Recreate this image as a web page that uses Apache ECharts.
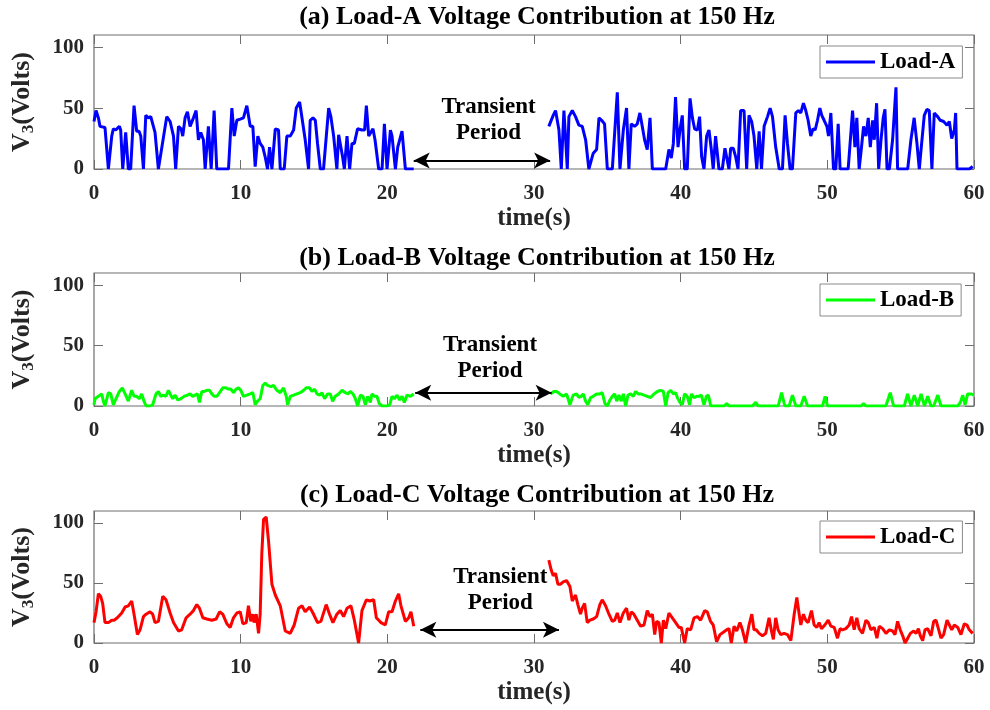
<!DOCTYPE html>
<html>
<head>
<meta charset="utf-8">
<title>Voltage Contribution at 150 Hz</title>
<script src="https://cdn.jsdelivr.net/npm/echarts@6/dist/echarts.min.js"></script>
<style>
  html, body { margin: 0; padding: 0; background: #fff; }
  #chart { width: 990px; height: 710px; }
</style>
</head>
<body>
<div id="chart"></div>
<script>
// [time (s), V3 (Volts)] samples, before and after the transient period
const loadA1 = [[0,39],[0.14,48],[0.30,42],[0.41,35],[0.75,34],[0.82,33],[0.98,0],[1.21,27],[1.32,33],[1.48,32],[1.59,31],[1.73,35],[1.82,32],[1.96,0],[2.16,30],[2.34,0],[2.50,0],[2.73,52],[2.91,31],[3.07,31],[3.19,27],[3.37,0],[3.53,44],[3.71,42],[3.87,43],[4.00,44],[4.16,30],[4.39,0],[4.50,0],[4.96,43],[5.19,39],[5.42,27],[5.57,0],[5.76,35],[5.94,33],[6.05,27],[6.21,42],[6.37,47],[6.55,35],[6.78,42],[6.96,48],[7.12,24],[7.28,30],[7.46,24],[7.58,0],[7.80,35],[7.99,0],[8.19,48],[8.37,0],[8.60,0],[9.17,0],[9.40,50],[9.56,27],[9.74,40],[9.97,41],[10.19,42],[10.42,52],[10.65,35],[10.83,35],[10.99,2],[11.17,27],[11.33,21],[11.51,18],[11.67,10],[11.83,0],[11.97,18],[12.13,0],[12.36,33],[12.58,32],[12.70,0],[12.97,0],[13.15,27],[13.38,27],[13.61,32],[13.79,50],[14.02,55],[14.18,42],[14.40,24],[14.63,0],[14.74,40],[14.93,42],[15.09,40],[15.24,21],[15.43,0],[15.65,0],[16.00,50],[16.15,43],[16.34,27],[16.56,0],[16.68,28],[16.79,27],[16.95,10],[17.07,0],[17.25,27],[17.43,0],[17.59,21],[17.75,21],[17.97,33],[18.27,32],[18.45,32],[18.57,52],[18.73,27],[19.02,33],[19.16,24],[19.41,0],[19.64,0],[19.80,37],[19.98,0],[20.21,32],[20.32,27],[20.55,0],[20.71,18],[21.00,31],[21.23,0],[21.80,0]];
const loadA2 = [[31.01,35],[31.31,44],[31.47,48],[31.70,32],[31.86,0],[32.04,48],[32.16,24],[32.27,0],[32.38,43],[32.61,48],[32.83,43],[33.06,36],[33.29,35],[33.52,24],[33.74,0],[33.86,0],[34.04,13],[34.27,16],[34.43,42],[34.61,40],[34.81,37],[35.00,0],[35.34,0],[35.68,63],[35.86,0],[36.09,32],[36.31,50],[36.47,0],[36.63,37],[36.86,35],[37.04,37],[37.22,46],[37.38,35],[37.54,24],[37.72,16],[37.91,42],[38.07,0],[38.98,0],[39.20,16],[39.36,9],[39.50,21],[39.65,59],[39.82,18],[39.95,32],[40.11,44],[40.27,0],[40.45,0],[40.64,58],[40.80,42],[40.95,33],[41.14,32],[41.29,43],[41.43,10],[41.59,0],[41.77,27],[41.93,32],[42.09,16],[42.22,0],[42.38,27],[42.61,0],[42.84,0],[43.02,17],[43.18,7],[43.29,0],[43.41,17],[43.59,17],[43.75,10],[43.91,0],[44.09,48],[44.32,48],[44.50,0],[44.66,44],[44.84,39],[45.00,27],[45.19,0],[45.35,31],[45.51,0],[45.69,35],[45.92,43],[46.10,50],[46.26,43],[46.48,18],[46.72,0],[46.94,0],[47.12,44],[47.28,21],[47.46,0],[47.62,0],[47.85,46],[48.03,48],[48.19,46],[48.37,54],[48.53,48],[48.69,40],[48.87,27],[49.03,33],[49.17,32],[49.33,40],[49.49,50],[49.62,44],[49.78,40],[49.97,35],[50.08,27],[50.24,46],[50.42,0],[50.58,0],[50.74,37],[50.87,0],[51.42,0],[51.72,48],[51.88,18],[52.01,42],[52.17,0],[52.33,18],[52.47,35],[52.63,27],[52.79,42],[52.93,18],[53.09,40],[53.20,24],[53.36,54],[53.50,0],[53.66,24],[53.81,42],[53.93,49],[54.07,0],[54.23,0],[54.45,24],[54.68,67],[54.79,0],[55.48,0],[55.70,24],[55.92,42],[56.11,21],[56.27,0],[56.43,21],[56.61,44],[56.79,49],[56.95,48],[57.13,0],[57.29,46],[57.52,43],[57.70,40],[57.93,39],[58.16,36],[58.32,39],[58.48,25],[58.66,32],[58.75,46],[58.84,0],[59.68,0],[59.91,2]];

const loadB1 = [[0,1],[0.07,6],[0.30,8],[0.52,10],[0.64,4],[0.75,0],[0.98,11],[1.14,10],[1.32,1],[1.50,6],[1.73,12],[1.93,15],[2.12,10],[2.34,4],[2.57,13],[2.73,8],[2.91,8],[3.09,6],[3.25,10],[3.41,4],[3.55,0],[3.82,0],[4.00,1],[4.23,10],[4.39,12],[4.55,8],[4.73,9],[4.91,8],[5.07,13],[5.19,10],[5.37,6],[5.53,9],[5.71,5],[5.92,6],[6.14,8],[6.37,9],[6.55,10],[6.73,8],[6.89,9],[7.05,10],[7.19,3],[7.35,12],[7.51,12],[7.69,13],[7.87,13],[8.03,10],[8.19,8],[8.37,8],[8.56,11],[8.78,15],[8.99,15],[9.17,14],[9.33,14],[9.51,11],[9.69,14],[9.85,15],[10.01,13],[10.19,8],[10.42,9],[10.65,10],[10.83,11],[10.99,1],[11.15,4],[11.33,6],[11.51,17],[11.67,19],[11.83,17],[12.06,16],[12.24,17],[12.47,13],[12.70,11],[12.92,15],[13.11,8],[13.20,1],[13.38,8],[13.61,9],[13.83,10],[14.06,11],[14.29,13],[14.47,15],[14.70,15],[14.86,12],[15.04,14],[15.20,10],[15.38,9],[15.54,11],[15.72,6],[15.93,10],[16.11,10],[16.27,4],[16.45,8],[16.68,10],[16.91,13],[17.13,11],[17.32,10],[17.47,12],[17.66,10],[17.82,6],[17.98,0],[18.16,9],[18.34,8],[18.50,1],[18.66,8],[18.84,3],[18.95,10],[19.11,8],[19.29,8],[19.45,2],[19.64,0],[19.98,0],[20.16,1],[20.32,8],[20.48,6],[20.66,9],[20.84,5],[21.00,8],[21.16,3],[21.34,9],[21.57,8],[21.80,10]];
const loadB2 = [[31.12,10],[31.35,12],[31.54,12],[31.76,10],[31.99,8],[32.22,10],[32.45,1],[32.67,9],[32.90,10],[33.06,7],[33.22,8],[33.36,10],[33.52,4],[33.67,1],[33.86,7],[34.04,8],[34.27,10],[34.49,10],[34.65,11],[34.84,2],[35.00,0],[35.18,5],[35.34,8],[35.50,10],[35.64,4],[35.79,9],[35.95,4],[36.09,10],[36.25,0],[36.41,9],[36.59,10],[36.77,8],[36.93,12],[37.11,10],[37.27,10],[37.50,9],[37.72,8],[37.95,7],[38.18,10],[38.41,12],[38.63,13],[38.82,12],[38.98,0],[39.14,11],[39.32,13],[39.50,10],[39.66,11],[39.77,7],[39.95,3],[40.11,1],[40.27,10],[40.45,8],[40.61,1],[40.73,10],[40.91,7],[41.09,8],[41.25,8],[41.41,9],[41.59,1],[41.75,8],[41.89,9],[42.05,0],[42.96,0],[43.14,2],[43.30,0],[44.89,0],[45.12,3],[45.28,0],[46.65,0],[46.88,11],[47.10,0],[47.40,0],[47.62,9],[47.85,0],[48.19,0],[48.42,8],[48.65,0],[49.67,0],[49.85,8],[50.01,0],[52.29,0],[52.47,2],[52.63,0],[53.99,0],[54.29,11],[54.52,0],[55.25,0],[55.47,10],[55.70,0],[55.93,9],[56.16,0],[56.39,10],[56.62,0],[56.84,8],[57.07,0],[57.25,0],[57.53,9],[57.75,0],[58.89,0],[59.07,3],[59.23,9],[59.39,1],[59.57,10],[59.80,10],[59.98,9]];

const loadC1 = [[0,17],[0.14,26],[0.30,41],[0.45,39],[0.59,33],[0.75,17],[0.98,17],[1.21,19],[1.37,19],[1.59,21],[1.89,25],[2.12,30],[2.34,31],[2.57,35],[2.73,24],[2.96,7],[3.14,11],[3.37,22],[3.55,24],[3.82,26],[4.00,24],[4.16,17],[4.39,18],[4.69,39],[4.91,36],[5.19,25],[5.42,17],[5.76,10],[5.98,11],[6.28,21],[6.55,24],[6.78,27],[7.01,32],[7.19,29],[7.42,21],[7.69,20],[8.03,19],[8.33,20],[8.56,26],[8.78,24],[9.06,16],[9.28,13],[9.51,21],[9.74,25],[9.97,26],[10.15,16],[10.38,17],[10.53,31],[10.69,18],[10.83,24],[10.92,17],[11.06,24],[11.22,8],[11.33,24],[11.44,74],[11.56,103],[11.74,105],[11.90,85],[12.13,49],[12.36,40],[12.70,31],[13.04,10],[13.38,8],[13.65,15],[13.95,29],[14.18,31],[14.40,26],[14.70,30],[14.93,25],[15.24,17],[15.47,18],[15.83,32],[16.06,24],[16.29,17],[16.56,24],[16.79,27],[17.02,22],[17.25,29],[17.52,31],[17.75,19],[18.04,0],[18.27,27],[18.57,36],[18.80,35],[19.07,36],[19.25,21],[19.57,17],[19.86,15],[20.09,26],[20.32,26],[20.55,35],[20.77,41],[20.93,31],[21.23,18],[21.46,21],[21.61,26],[21.80,14]];
const loadC2 = [[31.01,69],[31.17,61],[31.31,56],[31.47,58],[31.63,49],[31.81,49],[31.99,51],[32.22,52],[32.45,47],[32.61,35],[32.83,40],[32.99,32],[33.17,24],[33.29,29],[33.45,33],[33.63,17],[33.81,19],[34.04,20],[34.27,22],[34.49,32],[34.65,36],[34.88,31],[35.11,24],[35.34,18],[35.50,19],[35.68,25],[35.86,17],[36.09,25],[36.31,29],[36.47,19],[36.63,26],[36.81,24],[37.04,19],[37.27,14],[37.50,15],[37.72,27],[37.91,22],[38.07,24],[38.23,7],[38.36,18],[38.52,17],[38.68,0],[38.82,19],[38.98,12],[39.20,25],[39.43,21],[39.66,17],[39.88,13],[40.04,13],[40.27,0],[40.45,12],[40.68,11],[40.91,21],[41.14,22],[41.36,19],[41.64,27],[41.81,26],[42.04,18],[42.22,15],[42.45,1],[42.68,7],[42.91,9],[43.14,11],[43.29,12],[43.45,0],[43.64,14],[43.82,10],[44.04,17],[44.21,11],[44.43,0],[44.66,15],[44.85,24],[45.00,11],[45.15,11],[45.35,8],[45.58,6],[45.80,8],[46.03,21],[46.19,10],[46.32,3],[46.48,21],[46.64,11],[46.82,7],[47.05,8],[47.28,7],[47.51,2],[47.74,24],[47.92,38],[48.08,24],[48.19,15],[48.37,24],[48.53,19],[48.69,17],[48.92,27],[49.10,15],[49.28,13],[49.44,17],[49.60,12],[49.83,15],[50.06,19],[50.24,14],[50.47,13],[50.69,4],[50.87,12],[51.03,11],[51.26,12],[51.49,15],[51.65,22],[51.83,11],[52.01,21],[52.17,12],[52.40,8],[52.63,19],[52.79,17],[52.97,11],[53.20,13],[53.38,4],[53.54,14],[53.77,12],[54.00,8],[54.23,11],[54.45,10],[54.61,7],[54.79,18],[54.97,11],[55.14,6],[55.30,0],[55.48,4],[55.66,8],[55.89,10],[56.05,8],[56.21,12],[56.34,6],[56.50,2],[56.66,11],[56.84,12],[57.07,6],[57.25,18],[57.41,19],[57.57,12],[57.75,4],[57.93,7],[58.16,19],[58.32,15],[58.48,11],[58.66,15],[58.89,13],[59.11,7],[59.34,16],[59.52,15],[59.68,11],[59.91,8]];

const seriesNames = ['Load-A', 'Load-B', 'Load-C'];
const seriesColors = ['#0000ff', '#00ff00', '#ff0000'];
const panelTitles = [
  '(a) Load-A Voltage Contribution at 150 Hz',
  '(b) Load-B Voltage Contribution at 150 Hz',
  '(c) Load-C Voltage Contribution at 150 Hz'
];
const xTickValues = [0, 10, 20, 30, 40, 50, 60];
const yTickValues = [0, 50, 100];
const xRange = [0, 60];
const yRange = [0, 110];

// transient-period annotation: arrow span [t0, t1] at height v, text centre [t, v]
const transient = [
  { arrow: [21.8, 31.1, 7], text: [26.9, 40] },
  { arrow: [21.9, 31.2, 11], text: [27.0, 40] },
  { arrow: [22.25, 31.7, 11], text: [27.7, 44] }
];

const segments = [[loadA1, loadA2], [loadB1, loadB2], [loadC1, loadC2]];

// join the two recorded segments with an empty point so the line breaks
function withGap(a, b) {
  return a.concat([[(a[a.length - 1][0] + b[0][0]) / 2, '-']], b);
}

const FONT = 'Liberation Serif';
const AX = '#6e6e6e';
const TXT = '#262626';

const gridBoxes = [
  { top: 35, height: 134 },
  { top: 273, height: 133 },
  { top: 511, height: 132 }
];
const titleTops = [4, 245, 482];
const legendTops = [46, 284, 521];

const grid = [], xAxis = [], yAxis = [], title = [], legend = [], series = [];

gridBoxes.forEach((g, i) => {
  grid.push({
    left: 94, right: 16, top: g.top, height: g.height, containLabel: false,
    show: true, borderColor: AX, borderWidth: 1.2, backgroundColor: 'transparent'
  });

  title.push({
    text: panelTitles[i], left: 537, top: titleTops[i], textAlign: 'center', padding: 0,
    textStyle: { fontFamily: FONT, fontWeight: 'bold', fontSize: 26, color: '#000' }
  });

  // ticks point into the box on all four sides
  const tick = vals => ({ show: true, inside: true, length: 9, customValues: vals, lineStyle: { color: AX, width: 1 } });
  const noLine = { show: false, onZero: false };

  xAxis.push({
    type: 'value', gridIndex: i, position: 'bottom',
    min: xRange[0], max: xRange[1],
    axisLine: noLine, axisTick: tick(xTickValues), splitLine: { show: false },
    axisLabel: { customValues: xTickValues, fontFamily: FONT, fontWeight: 'bold', fontSize: 21, color: TXT, margin: 14 },
    name: 'time(s)', nameLocation: 'middle', nameGap: 37,
    nameTextStyle: { fontFamily: FONT, fontWeight: 'bold', fontSize: 25, color: TXT }
  });
  xAxis.push({
    type: 'value', gridIndex: i, position: 'top',
    min: xRange[0], max: xRange[1],
    axisLine: noLine, axisTick: tick(xTickValues), splitLine: { show: false },
    axisLabel: { show: false }
  });

  yAxis.push({
    type: 'value', gridIndex: i, position: 'left',
    min: yRange[0], max: yRange[1],
    axisLine: noLine, axisTick: tick(yTickValues), splitLine: { show: false },
    axisLabel: { customValues: yTickValues, fontFamily: FONT, fontWeight: 'bold', fontSize: 21, color: TXT, margin: 10 },
    name: '{v|V}{s|3}{v|(Volts)}', nameLocation: 'middle', nameGap: 57, nameRotate: 90,
    nameTextStyle: {
      rich: {
        v: { fontFamily: FONT, fontWeight: 'bold', fontSize: 26, color: TXT, lineHeight: 30, verticalAlign: 'middle' },
        s: { fontFamily: FONT, fontWeight: 'bold', fontSize: 17, color: TXT, lineHeight: 30, verticalAlign: 'bottom' }
      }
    }
  });
  yAxis.push({
    type: 'value', gridIndex: i, position: 'right',
    min: yRange[0], max: yRange[1],
    axisLine: noLine, axisTick: tick(yTickValues), splitLine: { show: false },
    axisLabel: { show: false }
  });

  legend.push({
    data: [{ name: seriesNames[i], icon: 'rect' }], left: 820, top: legendTops[i],
    padding: [4, 7, 4, 6], itemWidth: 49, itemHeight: 3,
    borderColor: '#8a8a8a', borderWidth: 1, backgroundColor: '#fff',
    selectedMode: false,
    textStyle: { fontFamily: FONT, fontWeight: 'bold', fontSize: 23, color: '#000', lineHeight: 24 }
  });

  const tr = transient[i];
  series.push({
    name: seriesNames[i], type: 'line',
    xAxisIndex: i * 2, yAxisIndex: i * 2,
    data: withGap(segments[i][0], segments[i][1]),
    symbol: 'none', connectNulls: false,
    lineStyle: { color: seriesColors[i], width: 3 },
    itemStyle: { color: seriesColors[i] },
    markLine: {
      silent: true, symbol: ['arrow', 'arrow'], symbolSize: [12, 16],
      lineStyle: { color: '#000', width: 2, type: 'solid' },
      itemStyle: { color: '#000' },
      label: { show: false },
      data: [[{ coord: [tr.arrow[0], tr.arrow[2]] }, { coord: [tr.arrow[1], tr.arrow[2]] }]]
    },
    markPoint: {
      silent: true, symbol: 'circle', symbolSize: 0,
      label: {
        show: true, position: 'inside', formatter: 'Transient\nPeriod',
        fontFamily: FONT, fontWeight: 'bold', fontSize: 23, lineHeight: 26, color: '#000'
      },
      data: [{ coord: tr.text }]
    }
  });
});

const chart = echarts.init(document.getElementById('chart'), null, { renderer: 'canvas' });
chart.setOption({
  backgroundColor: '#fff',
  animation: false,
  title, legend, grid, xAxis, yAxis, series
});
</script>
</body>
</html>
